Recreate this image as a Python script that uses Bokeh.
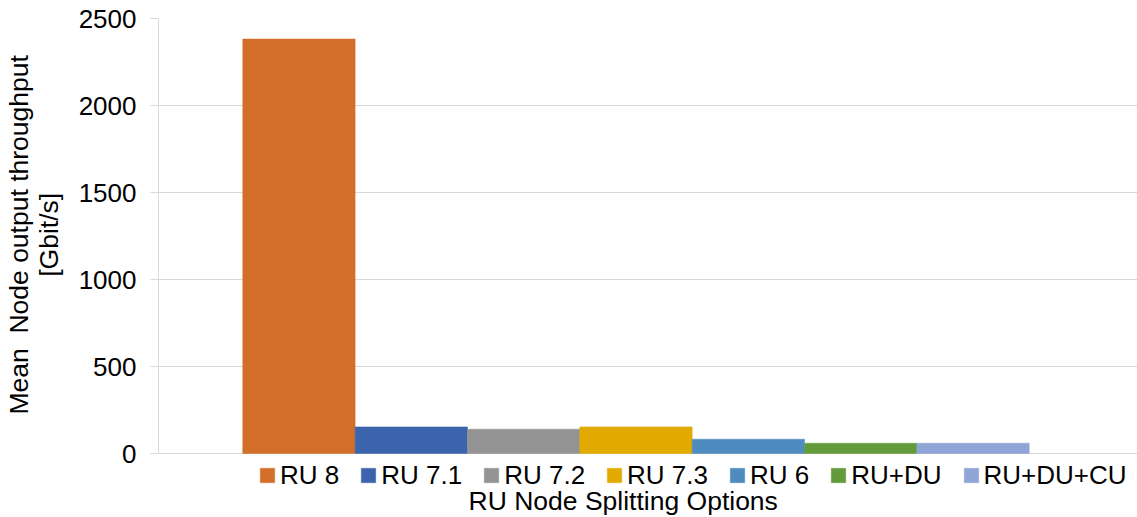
from bokeh.plotting import figure
from bokeh.models import Range1d, Legend, LegendItem, Label, FixedTicker
from bokeh.embed import file_html
from bokeh.resources import INLINE

categories = ["RU 8", "RU 7.1", "RU 7.2", "RU 7.3", "RU 6", "RU+DU", "RU+DU+CU"]
values = [2382, 153, 140, 153, 82, 59, 59]
colors = ["#D36F2B", "#3C64AD", "#939393", "#E2AA00", "#4E8BBF", "#639A3B", "#8FA5D5"]
y_ticks = [0, 500, 1000, 1500, 2000, 2500]
y_label_lines = ["Mean \u00a0Node output throughput", "[Gbit/s]"]
x_title = "RU Node Splitting Options"

FONT = "Liberation Sans"
GRID = "#D9D9D9"

# ---- layout geometry (pixels) ----
CANVAS_W, CANVAS_H = 1137, 517
FRAME_L, FRAME_T = 157, 18
ZERO_PX = 453            # pixel row of value 0
PLOT_R = 1112            # right end of the grid lines
Y_MAX = y_ticks[-1]
PX_PER_Y = (ZERO_PX - FRAME_T) / Y_MAX
BAR_PX = (PLOT_R - FRAME_L) / 8.5   # one bar width in pixels
X_START = -1.25

frame_w = CANVAS_W - FRAME_L
frame_h = CANVAS_H - FRAME_T
y_min = -(CANVAS_H - ZERO_PX) / PX_PER_Y
x_end = X_START + frame_w / BAR_PX
grid_x_end = X_START + (PLOT_R - FRAME_L) / BAR_PX

def px_to_x(px):
    return X_START + (px - FRAME_L) / BAR_PX

def px_to_y(py):
    return (ZERO_PX - py) / PX_PER_Y

# the axis label is centred on the (taller) frame; lead each line with
# no-break spaces so the visible text is centred on the 0..2500 axis span
PAD = "\u00a0" * 9
y_label = "\n".join(PAD + s for s in y_label_lines)

n = len(categories)
p = figure(
    frame_width=frame_w, frame_height=frame_h,
    x_range=Range1d(X_START, x_end), y_range=Range1d(y_min, Y_MAX),
    x_axis_location=None,
    output_backend="svg", toolbar_location=None,
    min_border_left=FRAME_L, min_border_right=0, min_border_top=FRAME_T, min_border_bottom=0,
)
p.outline_line_color = None
p.xgrid.grid_line_color = None
p.ygrid.grid_line_color = GRID
p.ygrid.grid_line_width = 1
p.ygrid.ticker = FixedTicker(ticks=y_ticks)
p.ygrid.bounds = (X_START, grid_x_end)

ax = p.yaxis[0]
ax.bounds = (0, Y_MAX)
ax.ticker = FixedTicker(ticks=y_ticks)
ax.axis_line_color = GRID
ax.major_tick_line_color = GRID
ax.major_tick_out = 8
ax.major_tick_in = 0
ax.minor_tick_line_color = None
ax.major_label_text_font = FONT
ax.major_label_text_font_size = "26px"
ax.major_label_text_color = "#000000"
ax.major_label_standoff = 14
ax.axis_label = y_label
ax.axis_label_text_font = FONT
ax.axis_label_text_font_size = "26.5px"
ax.axis_label_text_font_style = "normal"
ax.axis_label_text_color = "#000000"
ax.axis_label_text_line_height = 1.0
ax.axis_label_standoff = 12

items = []
for i, (cat, v, c) in enumerate(zip(categories, values, colors)):
    r = p.vbar(x=[i], top=[v], bottom=0, width=1.0, fill_color=c, line_color=c, line_width=0.5)
    items.append(LegendItem(label=cat, renderers=[r]))

legend = Legend(
    items=items, orientation="horizontal", location=(100, 26.5),
    padding=0, margin=0, spacing=20,
    glyph_width=18, glyph_height=18, label_standoff=4,
    label_text_font=FONT, label_text_font_size="26px", label_text_color="#000000",
    border_line_color=None, background_fill_alpha=0,
)
p.add_layout(legend, "center")

title = Label(
    x=px_to_x(621.7), y=px_to_y(500.5), text=x_title,
    text_align="center", text_baseline="middle",
    text_font=FONT, text_font_size="26.5px", text_font_style="normal", text_color="#000000",
)
p.add_layout(title)

open("out.html", "w").write(file_html(p, INLINE))
